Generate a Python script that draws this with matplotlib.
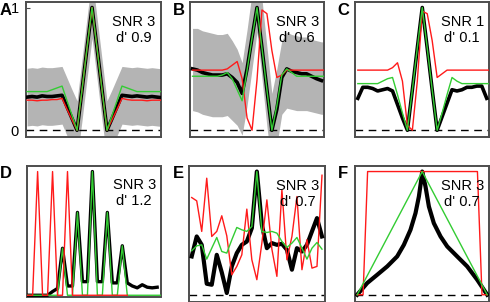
import matplotlib.pyplot as plt
import numpy as np

plt.rcParams['font.family'] = ['Liberation Sans', 'DejaVu Sans']

RED = '#ff1a1a'
GREEN = '#33cc33'
GREY = '#b4b4b4'
SPINE = '#4d4d4d'

# ---- panel A (28 samples) ----
a_black = [0.27, 0.275, 0.27, 0.28, 0.275, 0.275, 0.28, 0.285, 0.19, 0.095, 0.0,
           0.33, 0.67, 1.0, 0.67, 0.33, 0.0, 0.095, 0.19, 0.285, 0.28, 0.275,
           0.28, 0.275, 0.27, 0.275, 0.27, 0.265]
a_red = [0.245, 0.245, 0.24, 0.245, 0.245, 0.25, 0.25, 0.26, 0.17, 0.085, 0.0,
         0.33, 0.67, 1.0, 0.67, 0.33, 0.0, 0.085, 0.17, 0.26, 0.25, 0.245,
         0.245, 0.245, 0.24, 0.245, 0.245, 0.245]
a_green = [0.315, 0.315, 0.315, 0.315, 0.315, 0.33, 0.345, 0.36, 0.24, 0.12, 0.0,
           0.33, 0.67, 1.0, 0.67, 0.33, 0.0, 0.12, 0.24, 0.36, 0.345, 0.33,
           0.315, 0.315, 0.315, 0.315, 0.315, 0.315]
a_sd = [0.235, 0.235, 0.235, 0.235, 0.235, 0.235, 0.235, 0.235, 0.235, 0.235, 0.24,
        0.25, 0.25, 0.25, 0.25, 0.25, 0.24, 0.235, 0.235, 0.235, 0.235, 0.235,
        0.235, 0.235, 0.235, 0.235, 0.235, 0.235]

# ---- panel B ----
b_black = [0.50, 0.49, 0.47, 0.46, 0.45, 0.45, 0.45, 0.46, 0.43, 0.39, 0.30,
           0.50, 0.755, 1.0, 0.67, 0.33, 0.0, 0.17, 0.43, 0.50, 0.48, 0.47,
           0.46, 0.46, 0.44, 0.42, 0.405]
b_red = [0.49, 0.49, 0.49, 0.49, 0.49, 0.49, 0.49, 0.50, 0.53, 0.56, 0.42,
         0.10, 0.0, 0.41, 0.98, 0.95, 0.65, 0.43, 0.45, 0.49, 0.49, 0.49,
         0.49, 0.49, 0.49, 0.49, 0.49, 0.49]
b_green = [0.44, 0.44, 0.44, 0.44, 0.44, 0.44, 0.45, 0.47, 0.42, 0.33, 0.24,
           0.49, 0.75, 1.0, 0.67, 0.33, 0.0, 0.20, 0.45, 0.50, 0.47, 0.44,
           0.44, 0.44, 0.44, 0.44, 0.44, 0.44]
b_hi = [0.83, 0.83, 0.81, 0.80, 0.79, 0.78, 0.78, 0.79, 0.73, 0.66, 0.55,
        0.82, 1.12, 1.35, 1.07, 0.68, 0.30, 0.50, 0.73, 0.80, 0.78, 0.77,
        0.76, 0.76, 0.74, 0.73, 0.72, 0.72]
b_lo = [0.16, 0.15, 0.13, 0.12, 0.11, 0.11, 0.11, 0.12, 0.08, 0.04, -0.04,
        0.20, 0.50, 0.80, 0.42, 0.03, -0.30, -0.12, 0.13, 0.18, 0.17, 0.16,
        0.16, 0.16, 0.15, 0.14, 0.13, 0.13]

# ---- panel C ----
c_black = [0.26, 0.35, 0.35, 0.34, 0.32, 0.33, 0.34, 0.32, 0.21, 0.10, 0.0,
           0.33, 0.67, 1.0, 0.67, 0.33, 0.0, 0.11, 0.22, 0.33, 0.32, 0.33,
           0.35, 0.35, 0.36, 0.36, 0.26]
c_red = [0.49, 0.49, 0.49, 0.49, 0.49, 0.49, 0.49, 0.51, 0.55, 0.40, 0.04,
         0.0, 0.40, 0.97, 0.95, 0.73, 0.43, 0.46, 0.49, 0.49, 0.49, 0.49,
         0.49, 0.49, 0.49, 0.49, 0.49, 0.49]
c_green = [0.38, 0.38, 0.38, 0.38, 0.38, 0.40, 0.42, 0.43, 0.29, 0.14, 0.0,
           0.33, 0.67, 1.0, 0.67, 0.33, 0.0, 0.14, 0.29, 0.43, 0.40, 0.38,
           0.38, 0.38, 0.38, 0.38, 0.38, 0.38]

# ---- panel D ----
d_black = [0, 0, 0, 0, 0.0, 0.03, 0.055, 0.38, 0.075, 0.075, 0.67, 0.11, 0.11,
           1.0, 0.11, 0.11, 0.67, 0.10, 0.10, 0.40, 0.10, 0.075, 0.06, 0.085,
           0.065, 0.06, 0.065]
d_red = [0, 0, 1, 0, 0, 1, 0, 0, 1, 0, 0, 0, 0, 0, 0, 0, 0, 0, 0, 0, 0]
d_green = [0, 0, 0, 0, 0, 0, 0, 0.38, 0, 0, 0.67, 0, 0, 1.0, 0, 0, 0.67, 0,
           0, 0.40, 0, 0, 0, 0, 0, 0, 0, 0]

# ---- panel E ----
e_black = [0.311, 0.473, 0.405, 0.089, 0.081, 0.324, 0.181, 0.014, 0.230, 0.338,
           0.405, 0.432, 0.541, 1.0, 0.568, 0.378, 0.419, 0.405, 0.414, 0.365,
           0.203, 0.378, 0.351, 0.405, 0.514, 0.622, 0.473]
e_red = [0.789, 0.762, 0.514, 0.946, 0.473, 0.514, 0.641, 0.478, 0.162, 0.230,
         0.324, 0.695, 0.284, 0.122, 0.419, 0.770, 0.370, 0.149, 0.851, 0.284,
         0.473, 0.797, 0.203, 0.446, 0.216, 0.230, 0.97]
e_green = [0.357, 0.397, 0.405, 0.289, 0.378, 0.465, 0.351, 0.338, 0.446, 0.546,
           0.527, 0.514, 0.554, 1.0, 0.514, 0.505, 0.514, 0.500, 0.432, 0.384,
           0.419, 0.465, 0.378, 0.289, 0.378, 0.424, 0.370]

# ---- panel F (lag, normalised) ----
f_black_x = [-1.0, -0.846, -0.692, -0.538, -0.385, -0.282, -0.18, -0.103, -0.051,
             -0.015, 0.0, 0.051, 0.103, 0.179, 0.282, 0.385, 0.538, 0.692, 0.846, 1.0]
f_black = [0.0, 0.095, 0.162, 0.23, 0.311, 0.405, 0.527, 0.662, 0.797,
           0.932, 1.0, 0.878, 0.716, 0.581, 0.473, 0.392, 0.311, 0.23, 0.122, 0.0]
f_red_x = [-1.0, -0.91, -0.84, 0.85, 0.92, 1.0]
f_red = [0, 0, 1, 1, 0, 0]
f_green_x = [-1.0, 0.0, 1.0]
f_green = [0, 1, 0]

snr = ['SNR 3', 'SNR 3', 'SNR 1', 'SNR 3', 'SNR 3', 'SNR 3']
dprime = ["d' 0.9", "d' 0.6", "d' 0.1", "d' 1.2", "d' 0.7", "d' 0.7"]
letters = ['A', 'B', 'C', 'D', 'E', 'F']

W, H = 490, 302
fig = plt.figure(figsize=(W / 100, H / 100), dpi=100)


def make_ax(left, right, top, bottom):
    return fig.add_axes([left / W, 1 - bottom / H, (right - left) / W, (bottom - top) / H])


boxes = [(26, 161, 2, 137), (190, 324, 2, 137), (355, 489, 2, 137),
         (27, 161, 166, 296.5), (189, 324.5, 166, 301.5), (355, 489, 166, 301.5)]
axes = [make_ax(*b) for b in boxes]
axA, axB, axC, axD, axE, axF = axes

BLK_LW = 2.6
CLR_LW = 1.0

# A
x = np.arange(28)
axA.fill_between(x, np.array(a_black) - a_sd, np.array(a_black) + a_sd,
                 color=GREY, lw=0, zorder=1)
axA.plot(x, a_black, color='k', lw=BLK_LW, zorder=3)
axA.plot(x, a_red, color=RED, lw=CLR_LW, zorder=4)
axA.plot(x, a_green, color=GREEN, lw=CLR_LW, zorder=5)
axA.set_xlim(-0.22, 26.81)

# B
axB.fill_between(x, b_lo, b_hi, color=GREY, lw=0, zorder=1)
axB.plot(np.arange(len(b_black)), b_black, color='k', lw=BLK_LW, zorder=3)
axB.plot(x, b_red, color=RED, lw=CLR_LW, zorder=4)
axB.plot(x, b_green, color=GREEN, lw=CLR_LW, zorder=5)
axB.set_xlim(-0.51, 26.51)

# C
axC.plot(np.arange(len(c_black)), c_black, color='k', lw=BLK_LW, zorder=3)
axC.plot(x, c_red, color=RED, lw=CLR_LW, zorder=4)
axC.plot(x, c_green, color=GREEN, lw=CLR_LW, zorder=5)
axC.set_xlim(-0.57, 26.46)

# D
axD.plot(np.arange(len(d_black)), d_black, color='k', lw=2.4, zorder=3)
axD.plot(np.arange(len(d_green)), d_green, color=GREEN, lw=CLR_LW, zorder=4)
axD.plot(np.arange(len(d_red)), d_red, color=RED, lw=CLR_LW, zorder=5)
axD.set_xlim(-0.13, 26.77)

# E
xe = np.arange(27)
axE.plot(xe, e_black, color='k', lw=BLK_LW + 0.4, zorder=3)
axE.plot(xe, e_red, color=RED, lw=CLR_LW, zorder=4)
axE.plot(xe, e_green, color=GREEN, lw=CLR_LW, zorder=5)
axE.set_xlim(-0.54, 26.5)

# F
axF.plot(f_black_x, f_black, color='k', lw=BLK_LW + 0.4, zorder=3)
axF.plot(f_red_x, f_red, color=RED, lw=CLR_LW, zorder=4)
axF.plot(f_green_x, f_green, color=GREEN, lw=CLR_LW, zorder=5)
axF.set_xlim(-1.034, 1.028)

# y limits and zero lines after all data are drawn
for ax in (axA, axB, axC, axE, axF):
    ax.axhline(0, color='k', lw=1.0, dashes=(5.5, 4), zorder=2)
    ax.set_ylim(-0.055, 1.045)
axD.set_ylim(-0.01, 1.045)

for i, ax in enumerate(axes):
    for s in ax.spines.values():
        s.set_color(SPINE)
        s.set_linewidth(1.4)
    ax.set_xticks([])
    ax.set_yticks([])
    ax.text(0.80, 0.822, snr[i], transform=ax.transAxes, ha='center',
            va='baseline', fontsize=10.5, zorder=6)
    ax.text(0.80, 0.704, dprime[i], transform=ax.transAxes, ha='center',
            va='baseline', fontsize=10.5, zorder=6)

axA.set_yticks([0, 1])
axA.set_yticklabels(['0', '1'])
axA.set_ylim(-0.055, 1.045)
axA.tick_params(axis='y', direction='in', length=3, pad=5, labelsize=10.5,
                color=SPINE)

label_pos = [(0, 15), (173, 15), (337, 15), (0, 178), (173, 178), (338, 178)]
for lab, (px, py) in zip(letters, label_pos):
    fig.text(px / W, 1 - py / H, lab, fontsize=12, fontweight='bold',
             ha='left', va='baseline')

fig.savefig('out.png', dpi=100)
